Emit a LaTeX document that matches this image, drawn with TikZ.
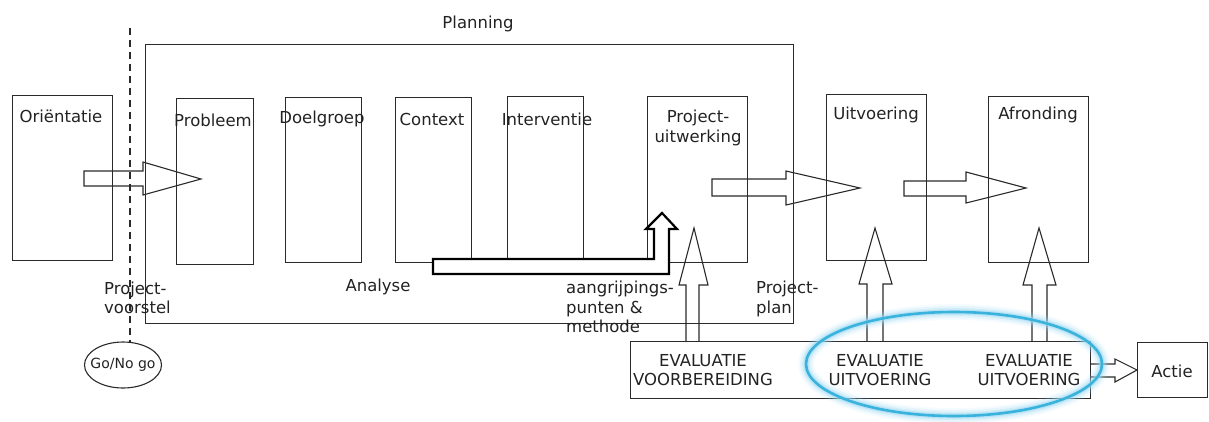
\documentclass[tikz,border=0pt]{standalone}
\usepackage{fontspec}
\setmainfont{DejaVu Sans}
\usetikzlibrary{shapes.geometric}
\definecolor{ink}{HTML}{2A2A2A}
\definecolor{txt}{HTML}{222222}
\definecolor{ringblue}{HTML}{3AB3DC}
\definecolor{glowblue}{HTML}{9FD9F2}
\tikzset{
  box/.style={draw=ink, line width=1.2pt, fill=none, inner sep=0pt},
  blk/.style={draw=ink, line width=1.1pt, line join=miter},
  bent/.style={draw=black, line width=2.2pt, fill=white, line join=miter},
  lbl/.style={text=txt, inner sep=0pt, font=\fontsize{16.5}{19.5}\selectfont},
  lbll/.style={lbl, anchor=west, align=left},
}
\begin{document}
\begin{tikzpicture}[x=1pt,y=-1pt]
\useasboundingbox (0,0) rectangle (1209,421);

% boxes
\node[box, minimum width=100pt, minimum height=165pt, anchor=north west] (orient) at (12,95) {};
\node[box, minimum width=648pt, minimum height=279pt, anchor=north west] (planning) at (145,44) {};
\node[box, minimum width=77pt, minimum height=166pt, anchor=north west] (probleem) at (176,98) {};
\node[box, minimum width=76pt, minimum height=165pt, anchor=north west] (doelgroep) at (285,97) {};
\node[box, minimum width=76pt, minimum height=165pt, anchor=north west] (context) at (395,97) {};
\node[box, minimum width=76pt, minimum height=162pt, anchor=north west] (interventie) at (507,96) {};
\node[box, minimum width=100pt, minimum height=166pt, anchor=north west] (projuit) at (647,96) {};
\node[box, minimum width=100pt, minimum height=166pt, anchor=north west] (uitvoering) at (826,94) {};
\node[box, minimum width=100pt, minimum height=166pt, anchor=north west] (afronding) at (988,96) {};
\node[box, minimum width=460pt, minimum height=57pt, anchor=north west] (evalbox) at (630,341) {};
\node[box, minimum width=70pt, minimum height=55pt, anchor=north west] (actie) at (1137,342) {};

% Go/No go and dashed divider
\node[draw=ink, line width=1.1pt, ellipse, minimum width=77pt, minimum height=46pt, inner sep=0pt] (gonogo) at (123,365) {};
\coordinate (dashtop) at (130,28);
\coordinate (dashend) at (130,342);
\draw[draw=ink, line width=1.6pt, dash pattern=on 7pt off 5pt] (dashtop) -- (dashend);

% block arrows (outline only)
\draw[blk] (84,171) -- (143,171) -- (143,162) -- (201,179) -- (143,195) -- (143,186) -- (84,186) -- cycle;
\draw[blk] (712,179) -- (786,179) -- (786,171) -- (860,188) -- (786,205) -- (786,196) -- (712,196) -- cycle;
\draw[blk] (904,181) -- (966,181) -- (966,172) -- (1026,188) -- (966,203) -- (966,196) -- (904,196) -- cycle;
\draw[blk] (686,341) -- (686,285) -- (679,285) -- (694,228) -- (708,285) -- (699,285) -- (699,341);
\draw[blk] (867,341) -- (867,284) -- (859,284) -- (875,228) -- (892,284) -- (883,284) -- (883,341);
\draw[blk] (1032,341) -- (1032,285) -- (1023,285) -- (1039,228) -- (1056,285) -- (1047,285) -- (1047,341);
\draw[blk] (1090,364) -- (1115,364) -- (1115,359) -- (1137,370) -- (1115,382) -- (1115,377) -- (1090,377);

% bent analyse arrow
\draw[bent] (433,259) -- (654,259) -- (654,229) -- (646,229) -- (662,213) -- (677,229) -- (669,229) -- (669,274) -- (433,274) -- cycle;

% highlight ring
\foreach \w/\o in {16/0.1, 12/0.18, 8/0.3, 5/0.5} {
  \draw[glowblue, line width=\w pt, opacity=\o] (954,364) ellipse [x radius=148pt, y radius=52pt];
}
\draw[ringblue, line width=2.6pt] (954,364) ellipse [x radius=148pt, y radius=52pt];

% labels
\node[lbl] (tplanning) at (478,24) {Planning};
\node[lbl] (torient) at (61,116) {Oriëntatie};
\node[lbl] (tprob) at (213,120) {Probleem};
\node[lbl] (tdoel) at (322,119) {Doelgroep};
\node[lbl] (tcont) at (432,119) {Context};
\node[lbl] (tinter) at (547,119) {Interventie};
\node[lbl, align=center] (tproj) at (698,128) {Project-\\uitwerking};
\node[lbl] (tuitv) at (876,115) {Uitvoering};
\node[lbl] (tafr) at (1038,115) {Afronding};
\node[lbl] (tanal) at (378,287) {Analyse};
\node[lbll] (tvoor) at (104,298) {Project-\\voorstel};
\node[lbll, font=\fontsize{16.5}{19.5}\selectfont] (taang) at (566,307) {aangrijpings-\\punten \&\\methode};
\node[lbll] (tplan) at (756,299) {Project-\\plan};
\node[lbl, align=center] (tev1) at (703,370) {EVALUATIE\\VOORBEREIDING};
\node[lbl, align=center] (tev2) at (880,370) {EVALUATIE\\UITVOERING};
\node[lbl, align=center] (tev3) at (1029,370) {EVALUATIE\\UITVOERING};
\node[lbl] (tactie) at (1172,371) {Actie};
\node[lbl, font=\fontsize{14}{16}\selectfont] (tgo) at (gonogo) {Go/No go};
\end{tikzpicture}
\end{document}
